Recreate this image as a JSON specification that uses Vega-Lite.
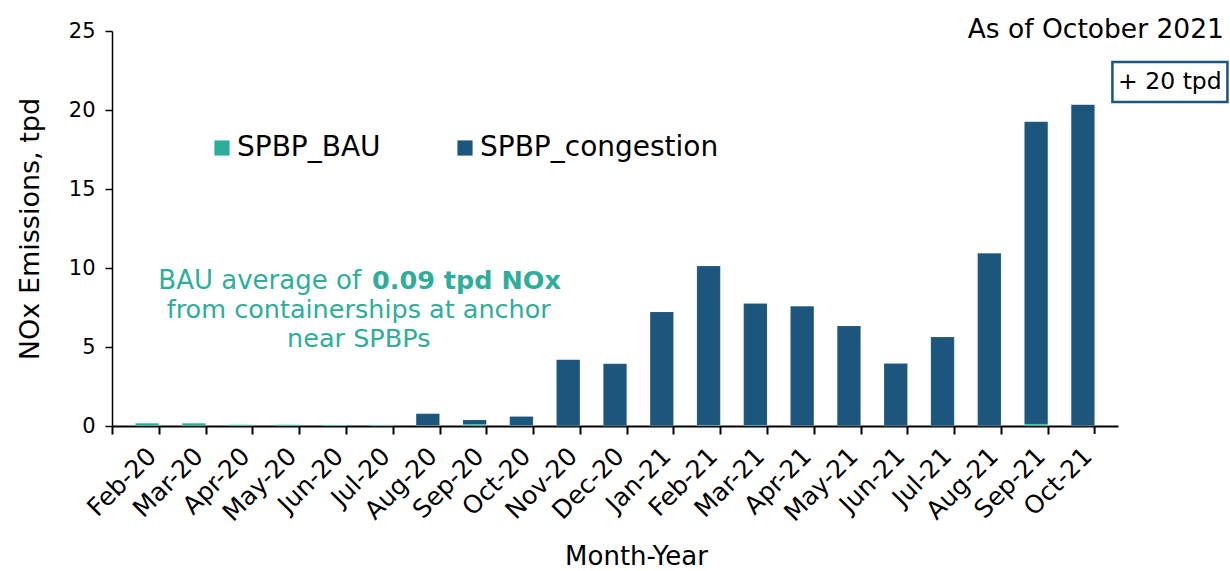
{
  "$schema": "https://vega.github.io/schema/vega-lite/v6.json",
  "width": 1006,
  "height": 395,
  "autosize": {"type": "none"},
  "padding": {"left": 112, "top": 31, "right": 112, "bottom": 145},
  "background": "white",
  "config": {
    "font": "DejaVu Sans",
    "view": {"stroke": null},
    "axis": {"labelFont": "DejaVu Sans", "titleFont": "DejaVu Sans", "labelColor": "#000000", "titleColor": "#000000", "domainColor": "#000000", "tickColor": "#000000", "titleFontWeight": "normal"}
  },
  "layer": [
    {
      "data": {
        "values": [
          {"month": "Feb-20", "series": "SPBP_BAU", "value": 0.18},
          {"month": "Feb-20", "series": "SPBP_congestion", "value": 0.0},
          {"month": "Mar-20", "series": "SPBP_BAU", "value": 0.18},
          {"month": "Mar-20", "series": "SPBP_congestion", "value": 0.0},
          {"month": "Apr-20", "series": "SPBP_BAU", "value": 0.08},
          {"month": "Apr-20", "series": "SPBP_congestion", "value": 0.0},
          {"month": "May-20", "series": "SPBP_BAU", "value": 0.08},
          {"month": "May-20", "series": "SPBP_congestion", "value": 0.0},
          {"month": "Jun-20", "series": "SPBP_BAU", "value": 0.06},
          {"month": "Jun-20", "series": "SPBP_congestion", "value": 0.0},
          {"month": "Jul-20", "series": "SPBP_BAU", "value": 0.05},
          {"month": "Jul-20", "series": "SPBP_congestion", "value": 0.0},
          {"month": "Aug-20", "series": "SPBP_BAU", "value": 0.03},
          {"month": "Aug-20", "series": "SPBP_congestion", "value": 0.75},
          {"month": "Sep-20", "series": "SPBP_BAU", "value": 0.1},
          {"month": "Sep-20", "series": "SPBP_congestion", "value": 0.28},
          {"month": "Oct-20", "series": "SPBP_BAU", "value": 0.03},
          {"month": "Oct-20", "series": "SPBP_congestion", "value": 0.57},
          {"month": "Nov-20", "series": "SPBP_BAU", "value": 0.01},
          {"month": "Nov-20", "series": "SPBP_congestion", "value": 4.19},
          {"month": "Dec-20", "series": "SPBP_BAU", "value": 0.01},
          {"month": "Dec-20", "series": "SPBP_congestion", "value": 3.93},
          {"month": "Jan-21", "series": "SPBP_BAU", "value": 0.01},
          {"month": "Jan-21", "series": "SPBP_congestion", "value": 7.21},
          {"month": "Feb-21", "series": "SPBP_BAU", "value": 0.05},
          {"month": "Feb-21", "series": "SPBP_congestion", "value": 10.07},
          {"month": "Mar-21", "series": "SPBP_BAU", "value": 0.05},
          {"month": "Mar-21", "series": "SPBP_congestion", "value": 7.7},
          {"month": "Apr-21", "series": "SPBP_BAU", "value": 0.02},
          {"month": "Apr-21", "series": "SPBP_congestion", "value": 7.56},
          {"month": "May-21", "series": "SPBP_BAU", "value": 0.01},
          {"month": "May-21", "series": "SPBP_congestion", "value": 6.32},
          {"month": "Jun-21", "series": "SPBP_BAU", "value": 0.01},
          {"month": "Jun-21", "series": "SPBP_congestion", "value": 3.95},
          {"month": "Jul-21", "series": "SPBP_BAU", "value": 0.01},
          {"month": "Jul-21", "series": "SPBP_congestion", "value": 5.62},
          {"month": "Aug-21", "series": "SPBP_BAU", "value": 0.01},
          {"month": "Aug-21", "series": "SPBP_congestion", "value": 10.92},
          {"month": "Sep-21", "series": "SPBP_BAU", "value": 0.12},
          {"month": "Sep-21", "series": "SPBP_congestion", "value": 19.13},
          {"month": "Oct-21", "series": "SPBP_BAU", "value": 0.01},
          {"month": "Oct-21", "series": "SPBP_congestion", "value": 20.33}
        ]
      },
      "mark": {"type": "bar", "stroke": "#FFFFFF", "strokeWidth": 0.3, "strokeOpacity": 0.4},
      "encoding": {
        "x": {
          "field": "month", "type": "nominal", "sort": null,
          "scale": {"paddingInner": 0.5, "paddingOuter": 0.5},
          "axis": {
            "title": "Month-Year", "titleFontSize": 26, "titleX": 524, "titleY": 138, "titleBaseline": "alphabetic",
            "labelFontSize": 25, "labelAngle": -45, "labelPadding": 9, "labelOffset": 31,
            "domainWidth": 2, "tickWidth": 2, "tickSize": 8, "tickOffset": -35.1
          }
        },
        "y": {
          "field": "value", "type": "quantitative", "stack": "zero",
          "scale": {"domain": [0, 25], "nice": false},
          "axis": {
            "title": "NOx Emissions, tpd", "titleFontSize": 27, "titleX": -82, "titleBaseline": "middle",
            "labelFontSize": 21, "labelPadding": 10, "values": [0, 5, 10, 15, 20, 25],
            "grid": false, "domainWidth": 1.5, "tickWidth": 1.5, "tickSize": 7
          }
        },
        "order": {"field": "series", "sort": "ascending"},
        "color": {
          "field": "series", "type": "nominal",
          "scale": {"domain": ["SPBP_BAU", "SPBP_congestion"], "range": ["#2DAE9A", "#1C567C"]},
          "legend": {
            "title": null, "orient": "none", "legendX": 96, "legendY": 103,
            "direction": "horizontal", "labelFontSize": 28, "labelFont": "DejaVu Sans",
            "labelColor": "#000000", "symbolType": "square", "symbolSize": 230,
            "symbolStrokeWidth": 0, "labelOffset": 1, "columnPadding": 70, "labelLimit": 400
          }
        }
      }
    },
    {
      "data": {"values": [{"t": "end tick"}]},
      "mark": {"type": "rule", "color": "#000000", "strokeWidth": 2, "xOffset": 11.7},
      "encoding": {"x": {"datum": "Oct-21"}, "y": {"datum": 0, "scale": {"domain": [0, 25], "nice": false}}, "y2": {"datum": -0.5}}
    },
    {
      "data": {"values": [{"t": "BAU average of"}]},
      "mark": {"type": "text", "align": "right", "baseline": "alphabetic", "fontSize": 26, "color": "#2DAE9A", "dx": -20},
      "encoding": {"x": {"datum": "Jul-20"}, "y": {"datum": 8.67}, "text": {"field": "t"}}
    },
    {
      "data": {"values": [{"t": "0.09 tpd NOx"}]},
      "mark": {"type": "text", "align": "left", "baseline": "alphabetic", "fontSize": 25.5, "fontWeight": "bold", "color": "#2DAE9A", "dx": -9},
      "encoding": {"x": {"datum": "Jul-20"}, "y": {"datum": 8.67}, "text": {"field": "t"}}
    },
    {
      "data": {"values": [{"t": "from containerships at anchor"}]},
      "mark": {"type": "text", "align": "center", "baseline": "alphabetic", "fontSize": 25.5, "color": "#2DAE9A", "dx": 24.5},
      "encoding": {"x": {"datum": "Jun-20"}, "y": {"datum": 6.84}, "text": {"field": "t"}}
    },
    {
      "data": {"values": [{"t": "near SPBPs"}]},
      "mark": {"type": "text", "align": "center", "baseline": "alphabetic", "fontSize": 25.5, "color": "#2DAE9A", "dx": 24.5},
      "encoding": {"x": {"datum": "Jun-20"}, "y": {"datum": 5.0}, "text": {"field": "t"}}
    },
    {
      "data": {"values": [{"t": "As of October 2021"}]},
      "mark": {"type": "text", "align": "right", "baseline": "alphabetic", "fontSize": 26.5, "color": "#000000", "dx": 141, "dy": 7},
      "encoding": {"x": {"datum": "Oct-21"}, "y": {"datum": 25}, "text": {"field": "t"}}
    },
    {
      "data": {"values": [{"t": "box"}]},
      "mark": {"type": "point", "shape": "M-1,-0.348H1V0.348H-1Z", "size": 13225, "filled": true, "fill": "#FFFFFF", "stroke": "#1C567C", "strokeWidth": 2.5, "opacity": 1, "xOffset": 87},
      "encoding": {"x": {"datum": "Oct-21"}, "y": {"datum": 21.77}}
    },
    {
      "data": {"values": [{"t": "+ 20 tpd"}]},
      "mark": {"type": "text", "align": "center", "baseline": "middle", "fontSize": 23.5, "color": "#000000", "dx": 87},
      "encoding": {"x": {"datum": "Oct-21"}, "y": {"datum": 21.77}, "text": {"field": "t"}}
    }
  ]
}
